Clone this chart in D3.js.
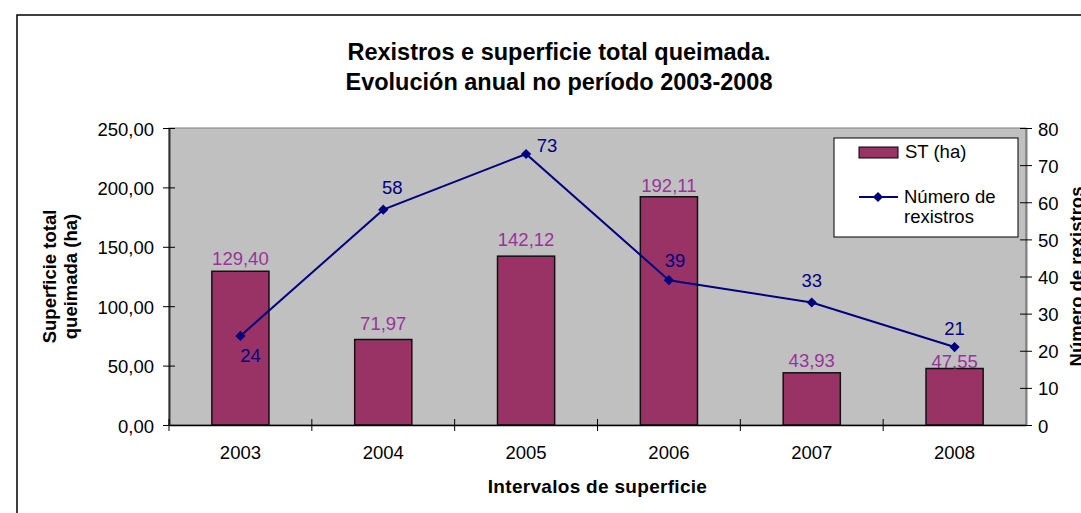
<!DOCTYPE html>
<html>
<head>
<meta charset="utf-8">
<script src="https://cdn.jsdelivr.net/npm/d3@7"></script>
<style>
  body { margin: 0; background: #fff; }
  svg { display: block; font-family: Arial, "Liberation Sans", sans-serif; }
</style>
</head>
<body>
<div id="chart"></div>
<script>
// data
const years = ['2003', '2004', '2005', '2006', '2007', '2008'];
const areaHa = [129.40, 71.97, 142.12, 192.11, 43.93, 47.55];
const records = [24, 58, 73, 39, 33, 21];
const leftTicks = [0, 50, 100, 150, 200, 250];
const rightTicks = [0, 10, 20, 30, 40, 50, 60, 70, 80];

// label nudges (layout, not data)
const barLabelDy = [-6, -9, -10, -5, -6, -1];
const lineLabelDx = [10, 9, 21, 6, 0, 0];
const lineLabelDy = [26, -16, -2, -13, -15, -12];

const width = 1081, height = 513;
const plot = { left: 169, right: 1026, top: 128, bottom: 425 };
const barColor = '#993366', labelPurple = '#993399', navy = '#000080';

const locale = d3.formatLocale({ decimal: ',', thousands: '.', grouping: [3], currency: ['', ''] });
const fmt2 = locale.format('.2f');

const svg = d3.select('#chart').append('svg')
  .attr('width', width)
  .attr('height', height);

// outer chart frame
svg.append('rect')
  .attr('x', 17).attr('y', 15)
  .attr('width', 1200).attr('height', 700)
  .attr('fill', 'none').attr('stroke', '#000').attr('stroke-width', 1.5);

const x = d3.scaleBand().domain(years).range([plot.left, plot.right]);
const yL = d3.scaleLinear().domain([0, 250]).range([plot.bottom, plot.top]);
const yR = d3.scaleLinear().domain([0, 80]).range([plot.bottom, plot.top]);

svg.append('rect')
  .attr('x', plot.left).attr('y', plot.top)
  .attr('width', plot.right - plot.left).attr('height', plot.bottom - plot.top)
  .attr('fill', '#c0c0c0').attr('stroke', '#808080').attr('stroke-width', 1);

// bars
const bw = x.bandwidth() * 0.4;
svg.selectAll('.bar')
  .data(areaHa)
  .enter().append('rect')
  .attr('class', 'bar')
  .attr('x', (d, i) => x(years[i]) + (x.bandwidth() - bw) / 2)
  .attr('y', d => yL(d))
  .attr('width', bw)
  .attr('height', d => yL(0) - yL(d))
  .attr('fill', barColor)
  .attr('stroke', '#111')
  .attr('stroke-width', 1.5);

// left axis
const axL = svg.append('g')
  .attr('transform', `translate(${plot.left},0)`)
  .call(d3.axisLeft(yL).tickValues(leftTicks).tickFormat(fmt2).tickSize(6).tickSizeOuter(0).tickPadding(9));
axL.select('.domain').attr('stroke', '#333').attr('stroke-width', 2);
axL.selectAll('.tick line').attr('x1', 6).attr('stroke', '#000');
axL.selectAll('text').attr('font-size', 18.5).attr('fill', '#000').attr('dy', '0.38em')
  .attr('font-family', 'Arial, "Liberation Sans", sans-serif');

// right axis
const axR = svg.append('g')
  .attr('transform', `translate(${plot.right},0)`)
  .call(d3.axisRight(yR).tickValues(rightTicks).tickSize(6).tickSizeOuter(0).tickPadding(6));
axR.select('.domain').attr('stroke', '#808080').attr('stroke-width', 2);
axR.selectAll('.tick line').attr('x1', -6).attr('stroke', '#000');
axR.selectAll('text').attr('font-size', 18.5).attr('fill', '#000').attr('dy', '0.38em')
  .attr('font-family', 'Arial, "Liberation Sans", sans-serif');

// bottom axis: labels at band centres, ticks at band edges
const axB = svg.append('g')
  .attr('transform', `translate(0,${plot.bottom})`)
  .call(d3.axisBottom(x).tickSize(0).tickPadding(21));
axB.select('.domain').attr('stroke', '#000').attr('stroke-width', 1.5);
axB.selectAll('text').attr('font-size', 18.5).attr('fill', '#000')
  .attr('font-family', 'Arial, "Liberation Sans", sans-serif');
const edges = years.map(d => x(d)).concat([x(years[years.length - 1]) + x.bandwidth()]);
axB.selectAll('.edge')
  .data(edges.slice(0, -1))
  .enter().append('line')
  .attr('x1', d => d).attr('x2', d => d)
  .attr('y1', -6).attr('y2', 6)
  .attr('stroke', '#000').attr('stroke-width', 1);

// bar labels
svg.selectAll('.barLabel')
  .data(areaHa)
  .enter().append('text')
  .attr('x', (d, i) => x(years[i]) + x.bandwidth() / 2)
  .attr('y', (d, i) => yL(d) + barLabelDy[i])
  .attr('text-anchor', 'middle')
  .attr('font-size', 18.5)
  .attr('fill', labelPurple)
  .text(d => fmt2(d));

// line series
const cx = (d, i) => x(years[i]) + x.bandwidth() / 2;
const line = d3.line().x(cx).y(d => yR(d));
svg.append('path')
  .datum(records)
  .attr('d', line)
  .attr('fill', 'none')
  .attr('stroke', navy)
  .attr('stroke-width', 2);

const diamond = d3.symbol(d3.symbolSquare, 52);
svg.selectAll('.pt')
  .data(records)
  .enter().append('path')
  .attr('d', diamond)
  .attr('transform', (d, i) => `translate(${cx(d, i)},${yR(d)}) rotate(45)`)
  .attr('fill', navy);

svg.selectAll('.lineLabel')
  .data(records)
  .enter().append('text')
  .attr('x', (d, i) => cx(d, i) + lineLabelDx[i])
  .attr('y', (d, i) => yR(d) + lineLabelDy[i])
  .attr('text-anchor', 'middle')
  .attr('font-size', 18.5)
  .attr('fill', navy)
  .text(d => d);

// titles
const title = svg.append('text')
  .attr('text-anchor', 'middle')
  .attr('font-weight', 'bold')
  .attr('font-size', 23.5)
  .attr('fill', '#000');
title.append('tspan').attr('x', 559).attr('y', 60).text('Rexistros e superficie total queimada.');
title.append('tspan').attr('x', 559).attr('y', 90).text('Evolución anual no período 2003-2008');

svg.append('text')
  .attr('x', (plot.left + plot.right) / 2).attr('y', 493)
  .attr('text-anchor', 'middle')
  .attr('font-weight', 'bold')
  .attr('font-size', 19)
  .attr('letter-spacing', 0.3)
  .text('Intervalos de superficie');

const midY = (plot.top + plot.bottom) / 2;
[['Superficie total', 56], ['queimada (ha)', 77]].forEach(([t, bx]) => {
  svg.append('text')
    .attr('transform', `translate(${bx},${midY}) rotate(-90)`)
    .attr('text-anchor', 'middle')
    .attr('font-weight', 'bold')
    .attr('font-size', 18.5)
    .text(t);
});

svg.append('text')
  .attr('transform', `translate(1083,${midY}) rotate(-90)`)
  .attr('text-anchor', 'middle')
  .attr('font-weight', 'bold')
  .attr('font-size', 18.5)
  .text('Número de rexistros');

// legend
const lg = svg.append('g');
lg.append('rect')
  .attr('x', 834).attr('y', 138).attr('width', 184).attr('height', 99)
  .attr('fill', '#fff').attr('stroke', '#000').attr('stroke-width', 1);
lg.append('rect')
  .attr('x', 859).attr('y', 147).attr('width', 39).attr('height', 11)
  .attr('fill', barColor).attr('stroke', '#000').attr('stroke-width', 1);
lg.append('text').attr('x', 905).attr('y', 158).attr('font-size', 18.5).text('ST (ha)');
lg.append('line')
  .attr('x1', 859).attr('x2', 898).attr('y1', 197).attr('y2', 197)
  .attr('stroke', navy).attr('stroke-width', 2);
lg.append('path')
  .attr('d', diamond)
  .attr('transform', 'translate(878,197) rotate(45)')
  .attr('fill', navy);
const lt = lg.append('text').attr('font-size', 18.5);
lt.append('tspan').attr('x', 904).attr('y', 203).text('Número de');
lt.append('tspan').attr('x', 904).attr('y', 223).text('rexistros');
</script>
</body>
</html>
